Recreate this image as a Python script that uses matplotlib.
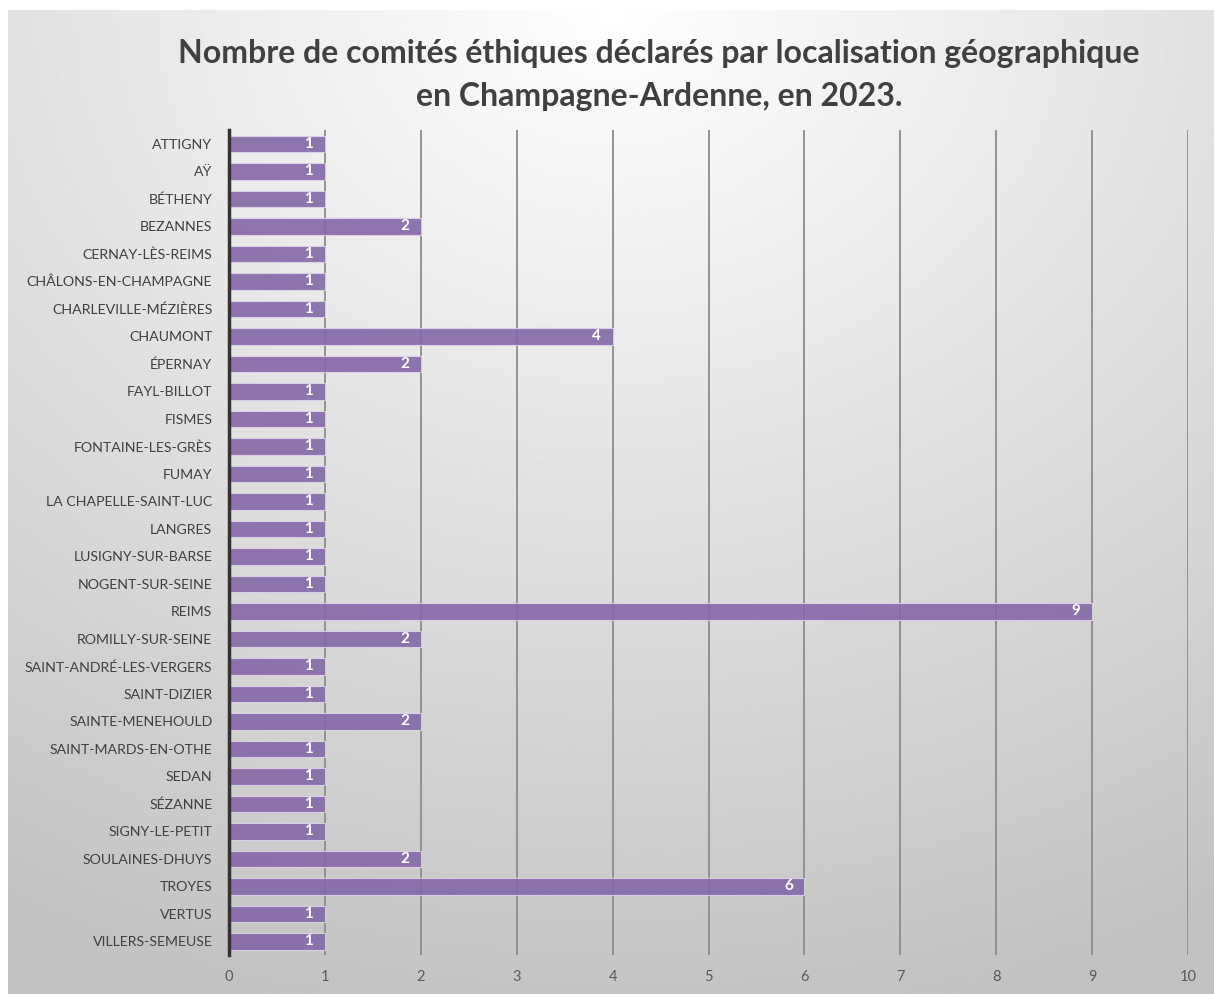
import numpy as np
import matplotlib.pyplot as plt

# Data
villes = ["ATTIGNY", "AŸ", "BÉTHENY", "BEZANNES", "CERNAY-LÈS-REIMS",
          "CHÂLONS-EN-CHAMPAGNE", "CHARLEVILLE-MÉZIÈRES", "CHAUMONT", "ÉPERNAY",
          "FAYL-BILLOT", "FISMES", "FONTAINE-LES-GRÈS", "FUMAY",
          "LA CHAPELLE-SAINT-LUC", "LANGRES", "LUSIGNY-SUR-BARSE",
          "NOGENT-SUR-SEINE", "REIMS", "ROMILLY-SUR-SEINE",
          "SAINT-ANDRÉ-LES-VERGERS", "SAINT-DIZIER", "SAINTE-MENEHOULD",
          "SAINT-MARDS-EN-OTHE", "SEDAN", "SÉZANNE", "SIGNY-LE-PETIT",
          "SOULAINES-DHUYS", "TROYES", "VERTUS", "VILLERS-SEMEUSE"]
comites = [1, 1, 1, 2, 1, 1, 1, 4, 2, 1, 1, 1, 1, 1, 1, 1, 1, 9, 2, 1, 1, 2,
           1, 1, 1, 1, 2, 6, 1, 1]
x_ticks = list(range(0, 11))

plt.rcParams['font.family'] = ['Lato', 'DejaVu Sans']

W, H = 1214, 994
fig = plt.figure(figsize=(W / 100, H / 100), dpi=100)
fig.patch.set_facecolor('white')

# Background panel with radial gradient
bg = fig.add_axes([8 / W, 0, 1 - 8 / W, 1 - 10 / H])
bg.set_zorder(0)
yy, xx = np.mgrid[0:1:400j, 0:1:500j]
r = np.sqrt((xx - 0.5) ** 2 + yy ** 2)
vals = 1.0 - 0.24 * np.clip(r / 1.05, 0, 1)
bg.imshow(vals, cmap='gray', vmin=0, vmax=1, aspect='auto',
          extent=[0, 1, 1, 0], interpolation='bilinear')
bg.set_axis_off()

# Plot axes
left, right = 229 / W, 1188 / W
top, bottom = 1 - 130 / H, 1 - 955 / H
ax = fig.add_axes([left, bottom, right - left, top - bottom])
ax.set_zorder(1)
ax.patch.set_alpha(0)

y = np.arange(len(villes))
ax.barh(y, comites, height=0.6, color='#8468a8', alpha=0.9,
        edgecolor='#ddd3ea', linewidth=0.8, zorder=3)
for yi, v in zip(y, comites):
    ax.text(v - 0.12, yi, str(v), ha='right', va='center', color='white',
            fontsize=11, fontweight='bold', zorder=4)

ax.set_ylim(len(villes) - 0.5, -0.5)
ax.set_xlim(0, 10)
ax.set_xticks(x_ticks)
ax.set_yticks(y)
ax.set_yticklabels(villes, fontsize=10.2, color='#404040')
ax.tick_params(axis='x', labelsize=10.5, labelcolor='#595959', length=0, pad=11)
ax.tick_params(axis='y', length=0, pad=12)
ax.xaxis.grid(True, color='#8c8c8c', linewidth=1.3, zorder=0)
ax.set_axisbelow(True)
for s in ['top', 'right', 'bottom']:
    ax.spines[s].set_visible(False)
ax.spines['left'].set_color('#333333')
ax.spines['left'].set_linewidth(2.5)
ax.spines['left'].set_zorder(5)

fig.text(0.543, 1 - 75 / H,
         "Nombre de comités éthiques déclarés par localisation géographique\n"
         "en Champagne-Ardenne, en 2023.",
         ha='center', va='center', fontsize=23, fontweight='bold',
         color='#404040', linespacing=1.55)

fig.savefig('out.png', dpi=100)
